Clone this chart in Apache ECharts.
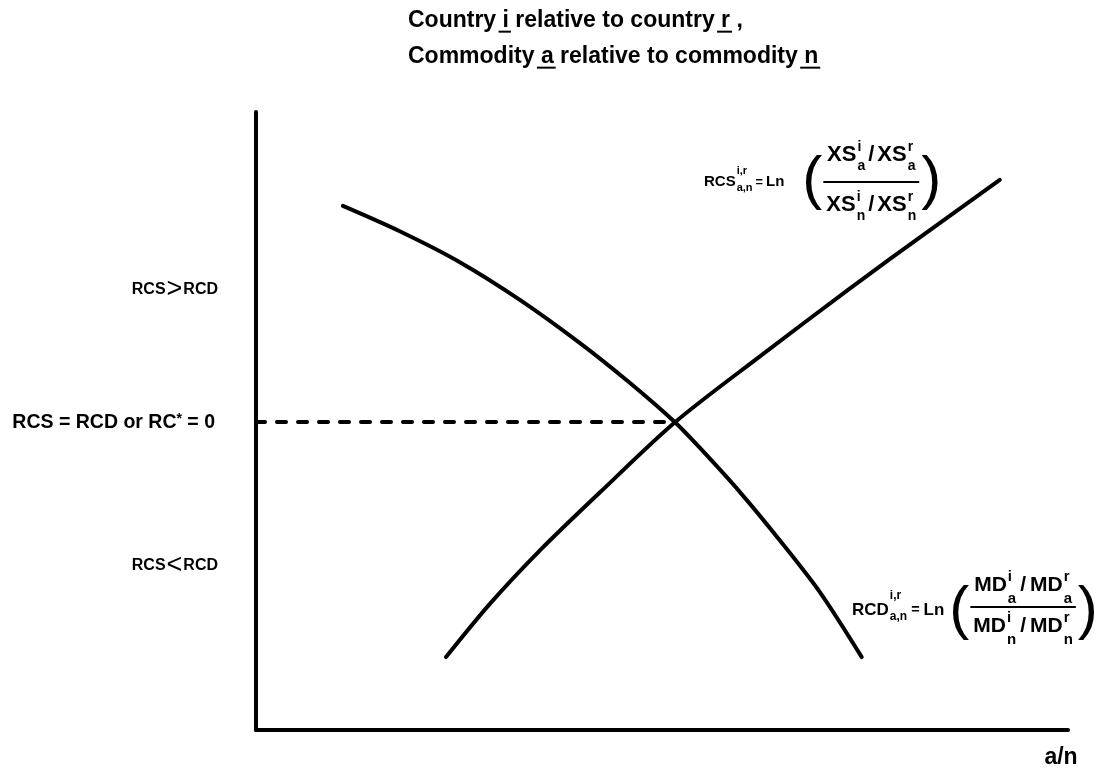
<!DOCTYPE html>
<html>
<head>
<meta charset="utf-8">
<script src="https://cdn.jsdelivr.net/npm/echarts@6/dist/echarts.min.js"></script>
<style>
  html, body { margin: 0; padding: 0; background: #fff; }
  #chart { width: 1101px; height: 778px; }
</style>
</head>
<body>
<div id="chart"></div>
<script>
// Supply-side curve (RCS), rising with a/n
const rcsCurve = [
  [23.4, 11.8], [28.8, 20.4], [35.0, 29.1], [42.4, 38.5], [51.6, 49.8],
  [62.1, 60.5], [73.2, 71.5], [83.0, 80.9], [91.6, 89.0]
];
// Demand-side curve (RCD), falling with a/n
const rcdCurve = [
  [10.7, 84.8], [17.7, 80.7], [25.1, 75.7], [32.5, 69.6], [39.9, 62.6], [46.1, 56.1],
  [51.6, 49.8], [54.7, 45.6], [59.6, 38.5], [64.5, 30.7], [69.5, 22.2], [74.6, 11.8]
];
// Crossing point where RCS = RCD
const equilibrium = [51.6, 49.8];

const titleLines = [
  [['Country ', false], ['i', true], [' relative to country ', false], ['r', true], [' ,', false]],
  [['Commodity ', false], ['a', true], [' relative to commodity ', false], ['n', true]]
];
const upperRegion = 'RCS{g|>}RCD';
const lowerRegion = 'RCS{g|<}RCD';
const middleRegion = 'RCS = RCD or RC{s|*} = 0';
const xAxisName = 'a/n';

const FAMILY = '"Liberation Sans", Arial, Helvetica, sans-serif';
const measureCtx = document.createElement('canvas').getContext('2d');
function fontStr(size, weight) { return (weight || 'bold') + ' ' + size + 'px ' + FAMILY; }
function tw(t, size, weight) { measureCtx.font = fontStr(size, weight); return measureCtx.measureText(t).width; }
function textEl(t, x, y, size, weight, align) {
  return {
    type: 'text', x: x, y: y, silent: true,
    style: {
      text: t, fontSize: size, fontWeight: weight || 'bold', fontFamily: FAMILY, fill: '#000',
      align: align || 'left', verticalAlign: 'middle',
      textAlign: align || 'left', textVerticalAlign: 'middle'
    }
  };
}
// base symbol with a stacked superscript and subscript
function scripted(base, sup, sub, B, S, supDy, subDy) {
  const wb = tw(base, B);
  const ws = Math.max(sup ? tw(sup, S) : 0, sub ? tw(sub, S) : 0);
  return {
    width: wb + 1 + ws,
    draw(x, cy) {
      const out = [textEl(base, x, cy, B)];
      if (sup) out.push(textEl(sup, x + wb + 1, cy + supDy, S));
      if (sub) out.push(textEl(sub, x + wb + 1, cy + subDy, S));
      return out;
    }
  };
}
function plain(t, size, weight) {
  const w = tw(t, size, weight);
  return { width: w, draw: (x, cy) => [textEl(t, x, cy, size, weight)] };
}
function row(parts, gap) {
  const width = parts.reduce((s, p) => s + p.width, 0) + gap * (parts.length - 1);
  return {
    width,
    draw(x, cy) {
      let cx = x; const out = [];
      parts.forEach(p => { out.push(...p.draw(cx, cy)); cx += p.width + gap; });
      return out;
    }
  };
}
// Ln( (Q^i_a / Q^r_a) / (Q^i_n / Q^r_n) ) definition of an index
function ratioFormula(f) {
  const els = [];
  let x = f.x;
  const head = scripted(f.name, 'i,r', 'a,n', f.B, f.S, f.hSup, f.hSub);
  els.push(...head.draw(x, f.cy)); x += head.width + f.gap;
  const eq = plain('=', f.B * 0.85); els.push(...eq.draw(x, f.cy)); x += eq.width + f.gap;
  const ln = plain('Ln', f.B); els.push(...ln.draw(x, f.cy)); x += ln.width + f.gapParen;
  els.push(textEl('(', x, f.parenCy, f.P, 'normal')); x += tw('(', f.P, 'normal') + 1;
  const term = (sup, sub) => scripted(f.q, sup, sub, f.FB, f.FS, f.fSup, f.fSub);
  const num = row([term('i', 'a'), plain('/', f.FB), term('r', 'a')], f.fgap);
  const den = row([term('i', 'n'), plain('/', f.FB), term('r', 'n')], f.fgap);
  const fw = Math.max(num.width, den.width) + 6;
  els.push(...num.draw(x + (fw - num.width) / 2, f.numCy));
  els.push(...den.draw(x + (fw - den.width) / 2, f.denCy));
  els.push({ type: 'rect', silent: true, shape: { x: x, y: f.lineY - 1, width: fw, height: 2 }, style: { fill: '#000' } });
  x += fw + 2;
  els.push(textEl(')', x, f.parenCy, f.P, 'normal'));
  return els;
}
function underlinedLine(segments, x, cy, size) {
  const els = [];
  let cx = x;
  const full = segments.map(s => s[0]).join('');
  els.push(textEl(full, x, cy, size));
  segments.forEach(s => {
    const w = tw(s[0], size);
    if (s[1]) {
      els.push({ type: 'rect', silent: true,
        shape: { x: cx - 4, y: cy + size * 0.42, width: w + 6, height: 2 },
        style: { fill: '#000' } });
    }
    cx += w;
  });
  return els;
}

const graphics = [];
graphics.push(...underlinedLine(titleLines[0], 408, 21, 23));
graphics.push(...underlinedLine(titleLines[1], 408, 57, 23));
graphics.push(...ratioFormula({
  name: 'RCS', q: 'XS', x: 704, cy: 182, B: 15, S: 11, hSup: -11, hSub: 6,
  gap: 3, gapParen: 18, P: 60, parenCy: 181, FB: 22, FS: 14, fSup: -8, fSub: 11,
  fgap: 3, numCy: 155, denCy: 205, lineY: 182
}));
graphics.push(...ratioFormula({
  name: 'RCD', q: 'MD', x: 852, cy: 610, B: 17, S: 12, hSup: -14, hSub: 7,
  gap: 4, gapParen: 5, P: 60, parenCy: 611, FB: 21, FS: 15, fSup: -8, fSub: 14,
  fgap: 4, numCy: 585, denCy: 626, lineY: 607
}));
const regionRich = { g: { fontSize: 27, fontWeight: 'normal', fontFamily: FAMILY, fill: '#000', padding: [0, 1, 0, 1] } };
graphics.push({ type: 'text', x: 218, y: 290, silent: true,
  style: { text: upperRegion, rich: regionRich, fontSize: 16, fontWeight: 'bold', fontFamily: FAMILY, fill: '#000',
    align: 'right', verticalAlign: 'middle', textAlign: 'right', textVerticalAlign: 'middle' } });
graphics.push({ type: 'text', x: 218, y: 566, silent: true,
  style: { text: lowerRegion, rich: regionRich, fontSize: 16, fontWeight: 'bold', fontFamily: FAMILY, fill: '#000',
    align: 'right', verticalAlign: 'middle', textAlign: 'right', textVerticalAlign: 'middle' } });
graphics.push(textEl(xAxisName, 1061, 758, 23, 'bold', 'center'));

const axisStyle = { show: true, onZero: false, lineStyle: { color: '#000', width: 4, cap: 'round' } };
const curveStyle = { color: '#000', width: 4, cap: 'round' };

const chart = echarts.init(document.getElementById('chart'));
chart.setOption({
  animation: false,
  backgroundColor: '#fff',
  grid: { left: 256, right: 33, top: 112, bottom: 48 },
  xAxis: { type: 'value', min: 0, max: 100, axisLine: axisStyle, axisTick: { show: false },
    axisLabel: { show: false }, splitLine: { show: false } },
  yAxis: { type: 'value', min: 0, max: 100, axisLine: axisStyle, axisTick: { show: false },
    axisLabel: { show: false }, splitLine: { show: false } },
  series: [
    {
      name: 'RCS', type: 'line', data: rcsCurve, smooth: 0.3, symbol: 'none',
      lineStyle: curveStyle, silent: true
    },
    {
      name: 'RCD', type: 'line', data: rcdCurve, smooth: 0.3, symbol: 'none',
      lineStyle: curveStyle, silent: true,
      markLine: {
        silent: true, symbol: 'none', animation: false,
        lineStyle: { color: '#000', width: 4, type: [9, 12], cap: 'round' },
        label: {
          show: true, position: 'start', distance: 41,
          formatter: middleRegion,
          color: '#000', fontSize: 19.5, fontWeight: 'bold', fontFamily: FAMILY,
          rich: { s: { fontSize: 14, fontWeight: 'bold', fontFamily: FAMILY, color: '#000', verticalAlign: 'top' } }
        },
        emphasis: { disabled: true },
        data: [[{ coord: [0, equilibrium[1]] }, { coord: [equilibrium[0], equilibrium[1]] }]]
      }
    }
  ],
  graphic: graphics
});
</script>
</body>
</html>
